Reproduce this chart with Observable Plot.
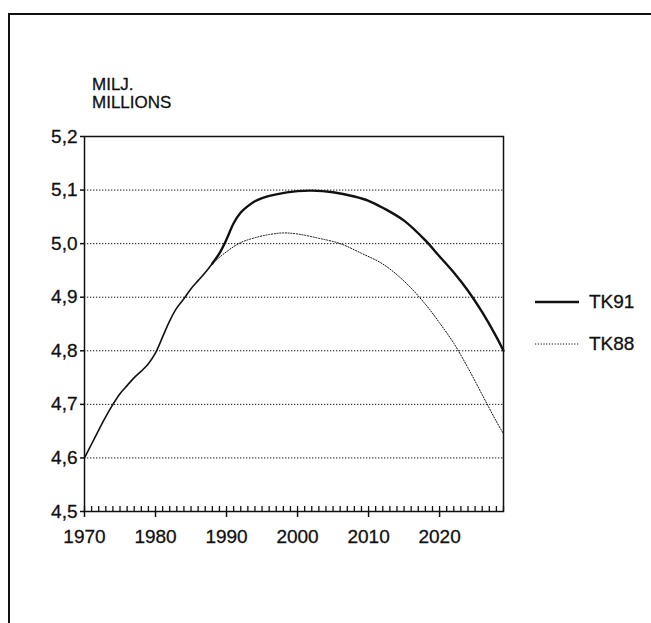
<!DOCTYPE html>
<html>
<head>
<meta charset="utf-8">
<script src="https://cdn.jsdelivr.net/npm/d3@7"></script>
<script src="https://cdn.jsdelivr.net/npm/@observablehq/plot@0.6"></script>
<style>
  html, body { margin: 0; padding: 0; background: white; }
  body { width: 651px; height: 623px; position: relative; overflow: hidden;
         font-family: "Liberation Sans", Arial, sans-serif; color: #111; }
  #chart { position: absolute; left: 0; top: 0; }
  #chart text { stroke: #111; stroke-width: 0.3px; }
  #border { position: absolute; left: 8px; top: 13px; width: 700px; height: 700px;
            border-left: 2.5px solid #111; border-top: 2.5px solid #111; pointer-events: none; }
  #ylabel { position: absolute; left: 92px; top: 76px; font-size: 17px; line-height: 18px;
            -webkit-text-stroke: 0.3px #111; }
  .leg { position: absolute; left: 535px; font-size: 19px; display: flex; align-items: center;
         -webkit-text-stroke: 0.3px #111; }
  .leg span { margin-left: 10px; }
</style>
</head>
<body>
<div id="chart"></div>
<div id="border"></div>
<div id="ylabel">MILJ.<br>MILLIONS</div>
<div class="leg" id="leg91" style="top:291px"></div>
<div class="leg" id="leg88" style="top:333px"></div>
<script>
// Historical (shared) series
const histYears  = [1970, 1971, 1972, 1973, 1974, 1975, 1976, 1977, 1978, 1979, 1980, 1981, 1982, 1983, 1984, 1985, 1986, 1987, 1988];
const histValues = [4.600, 4.626, 4.652, 4.677, 4.700, 4.720, 4.735, 4.750, 4.762, 4.776, 4.796, 4.826, 4.856, 4.880, 4.897, 4.916, 4.931, 4.946, 4.963];

// TK91 projection
const tk91Years  = [1988, 1989, 1990, 1991, 1992, 1993, 1994, 1995, 1997, 2000, 2002, 2005, 2008, 2010, 2012, 2015, 2018, 2020, 2022, 2024, 2026, 2028, 2029];
const tk91Values = [4.963, 4.982, 5.008, 5.038, 5.058, 5.070, 5.079, 5.085, 5.092, 5.098, 5.099, 5.096, 5.088, 5.080, 5.067, 5.043, 5.006, 4.976, 4.946, 4.912, 4.872, 4.826, 4.800];

// TK88 projection
const tk88Years  = [1988, 1990, 1992, 1994, 1996, 1998, 2000, 2003, 2006, 2009, 2012, 2015, 2018, 2020, 2022, 2024, 2026, 2028, 2029];
const tk88Values = [4.963, 4.985, 5.002, 5.011, 5.017, 5.020, 5.018, 5.010, 5.000, 4.982, 4.962, 4.930, 4.887, 4.852, 4.814, 4.768, 4.718, 4.668, 4.645];

// Axis ticks
const xTicks = [1970, 1980, 1990, 2000, 2010, 2020];
const minorYears = d3.range(1970, 2030);
const yTicks = [4.5, 4.6, 4.7, 4.8, 4.9, 5.0, 5.1, 5.2];
const yGrid  = [4.6, 4.7, 4.8, 4.9, 5.0, 5.1];

const seriesNames = ["TK91", "TK88"];

const hist = histYears.map((y, i) => ({year: y, value: histValues[i]}));
const tk91 = tk91Years.map((y, i) => ({year: y, value: tk91Values[i]}));
const tk88 = tk88Years.map((y, i) => ({year: y, value: tk88Values[i]}));

const W = 651, H = 623, mL = 84, mR = 148, mT = 136, mB = 112;
const plotH = H - mT - mB;

const chart = Plot.plot({
  width: W, height: H,
  marginLeft: mL, marginRight: mR, marginTop: mT, marginBottom: mB,
  x: {domain: [1970, 2029]},
  y: {domain: [4.5, 5.2]},
  style: {background: "none", fontFamily: "'Liberation Sans', Arial, sans-serif", fontSize: "19px", color: "#111"},
  marks: [
    Plot.gridY(yGrid, {stroke: "#111", strokeOpacity: 1, strokeWidth: 1, strokeDasharray: "1.3,1.7"}),
    Plot.axisY(yTicks, {tickSize: 4, tickPadding: 3, strokeWidth: 1.5,
      tickFormat: d => d3.format(".1f")(d).replace(".", ","), label: null}),
    Plot.axisX(xTicks, {tickSize: 6, tickPadding: 12, strokeWidth: 1.5, tickFormat: d => String(d), label: null}),
    Plot.tickX(minorYears, {x: d => d, insetTop: plotH - 5, stroke: "#111", strokeWidth: 1.3}),
    Plot.frame({stroke: "#111", strokeWidth: 1.5}),
    Plot.line(tk88, {x: "year", y: "value", curve: "catmull-rom", stroke: "#111", strokeWidth: 1, strokeDasharray: "1.2,1.6"}),
    Plot.line(hist, {x: "year", y: "value", curve: "catmull-rom", stroke: "#111", strokeWidth: 1.6}),
    Plot.line(tk91, {x: "year", y: "value", curve: "catmull-rom", stroke: "#111", strokeWidth: 2.4})
  ]
});
document.getElementById("chart").appendChild(chart);

function legendItem(id, name, dash, sw) {
  const el = document.getElementById(id);
  el.innerHTML = `<svg width="44" height="20"><line x1="0" x2="44" y1="10" y2="10" stroke="#111" stroke-width="${sw}" ${dash ? `stroke-dasharray="${dash}"` : ""}/></svg><span>${name}</span>`;
}
legendItem("leg91", seriesNames[0], null, 2.4);
legendItem("leg88", seriesNames[1], "1.2,1.6", 1);
</script>
</body>
</html>
